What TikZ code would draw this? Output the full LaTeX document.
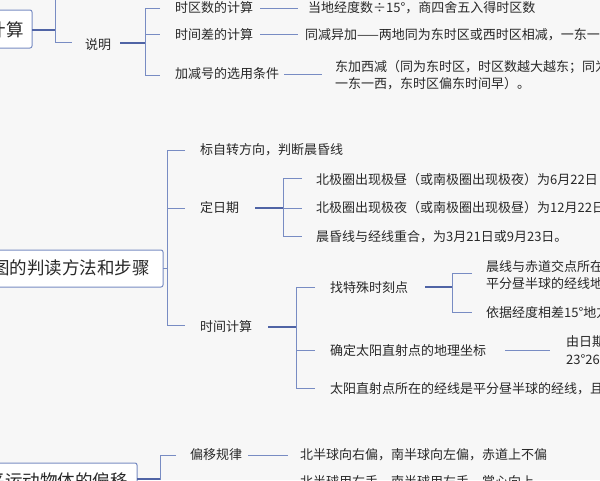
\documentclass[tikz,border=0pt]{standalone}
\usepackage{fontspec}
\setmainfont{Noto Sans CJK SC}
\definecolor{ln}{RGB}{120,140,195}
\definecolor{lnd}{RGB}{80,100,165}
\definecolor{tx}{RGB}{40,40,40}
\begin{document}
\begin{tikzpicture}[x=1pt,y=-1pt,
  t/.style={anchor=west,inner sep=0pt,font=\fontsize{13}{17.5}\selectfont,text=tx,align=left},
  rootbox/.style={draw=ln,fill=white,line width=1pt,rounded corners=2pt,inner sep=0pt,font=\fontsize{17.5}{20}\selectfont,text=tx},
  br/.style={ln,line width=0.9pt},
  cn/.style={lnd,line width=1.2pt}]
\fill[gray!6] (0,0) rectangle (600,480);
\clip (0,0) rectangle (600,480);
% top section
\draw[rootbox] (-20,10) rectangle (32,48);
\node[t,anchor=east,font=\fontsize{17.5}{20}\selectfont] (r1) at (24,30) {区时计算};
\coordinate (r1e) at (32,30);
\draw[cn] (r1e) -- (55,30);
\draw[br] (55,0) -- (55,42) -- (72,42);
\node[t] (sm) at (85,45) {说明};
\draw[cn] (120,43) -- (145,43);
\draw[br] (160,8) -- (145,8) -- (145,75) -- (160,75) (145,34) -- (160,34);
\node[t] (a1) at (175,8) {时区数的计算};
\node[t] (a2) at (175,35) {时间差的计算};
\node[t] (a3) at (175,74) {加减号的选用条件};
\draw[br] (260,8) -- (298,8) (260,34) -- (298,34) (284,74) -- (322,74);
\node[t] (b1) at (308,8) {当地经度数÷15°，商四舍五入得时区数};
\node[t] (b2) at (305,35) {同减异加——两地同为东时区或西时区相减，一东一西相加};
\node[t] (b3) at (335,75) {东加西减（同为东时区，时区数越大越东；同为西时区，时区数越大越西；\\一东一西，东时区偏东时间早）。};
% middle
\draw[rootbox] (-20,250) rectangle (163,287);
\node[t,anchor=east,font=\fontsize{17.5}{20}\selectfont] (r2) at (150,268) {光照图的判读方法和步骤};
\draw[br] (185,150) -- (167,150) -- (167,325) -- (185,325) (163,268) -- (167,268) (167,208) -- (185,208);
\node[t] (c1) at (200,150) {标自转方向，判断晨昏线};
\node[t] (c2) at (200,208) {定日期};
\node[t] (c3) at (200,327) {时间计算};
\draw[cn] (255,208) -- (283,208);
\draw[br] (302,178) -- (283,178) -- (283,236) -- (302,236) (283,208) -- (302,208);
\node[t] (d1) at (316,180) {北极圈出现极昼（或南极圈出现极夜）为6月22日};
\node[t] (d2) at (316,208) {北极圈出现极夜（或南极圈出现极昼）为12月22日};
\node[t] (d3) at (316,237) {晨昏线与经线重合，为3月21日或9月23日。};
\draw[cn] (268,327) -- (296,327);
\draw[br] (315,287) -- (296,287) -- (296,388) -- (315,388) (296,350) -- (315,350);
\node[t] (e1) at (330,288) {找特殊时刻点};
\node[t] (e2) at (330,351) {确定太阳直射点的地理坐标};
\node[t] (e3) at (330,389) {太阳直射点所在的经线是平分昼半球的经线，且为12时};
\draw[cn] (425,287) -- (452,287);
\draw[br] (472,273) -- (452,273) -- (452,312) -- (472,312);
\node[t] (f1) at (486,275) {晨线与赤道交点所在经线为6时，\\平分昼半球的经线地方时为12时};
\node[t] (f2) at (486,313) {依据经度相差15°地方时相差1小时};
\draw[br] (505,350) -- (550,350);
\node[t] (g1) at (566,350) {由日期\\23°26′};
% bottom
\draw[rootbox] (-20,463) rectangle (137,500);
\node[t,anchor=east,font=\fontsize{17.5}{20}\selectfont] (r3) at (128,481) {地转偏向力：水平运动物体的偏移};
\draw[cn] (137,479) -- (160,479);
\draw[br] (176,455) -- (160,455) -- (160,480);
\node[t] (h1) at (190,455) {偏移规律};
\draw[br] (248,455) -- (288,455);
\node[t] (h2) at (300,455) {北半球向右偏，南半球向左偏，赤道上不偏};
\node[t] (h3) at (300,482) {北半球用右手，南半球用左手，掌心向上};
\end{tikzpicture}
\end{document}
